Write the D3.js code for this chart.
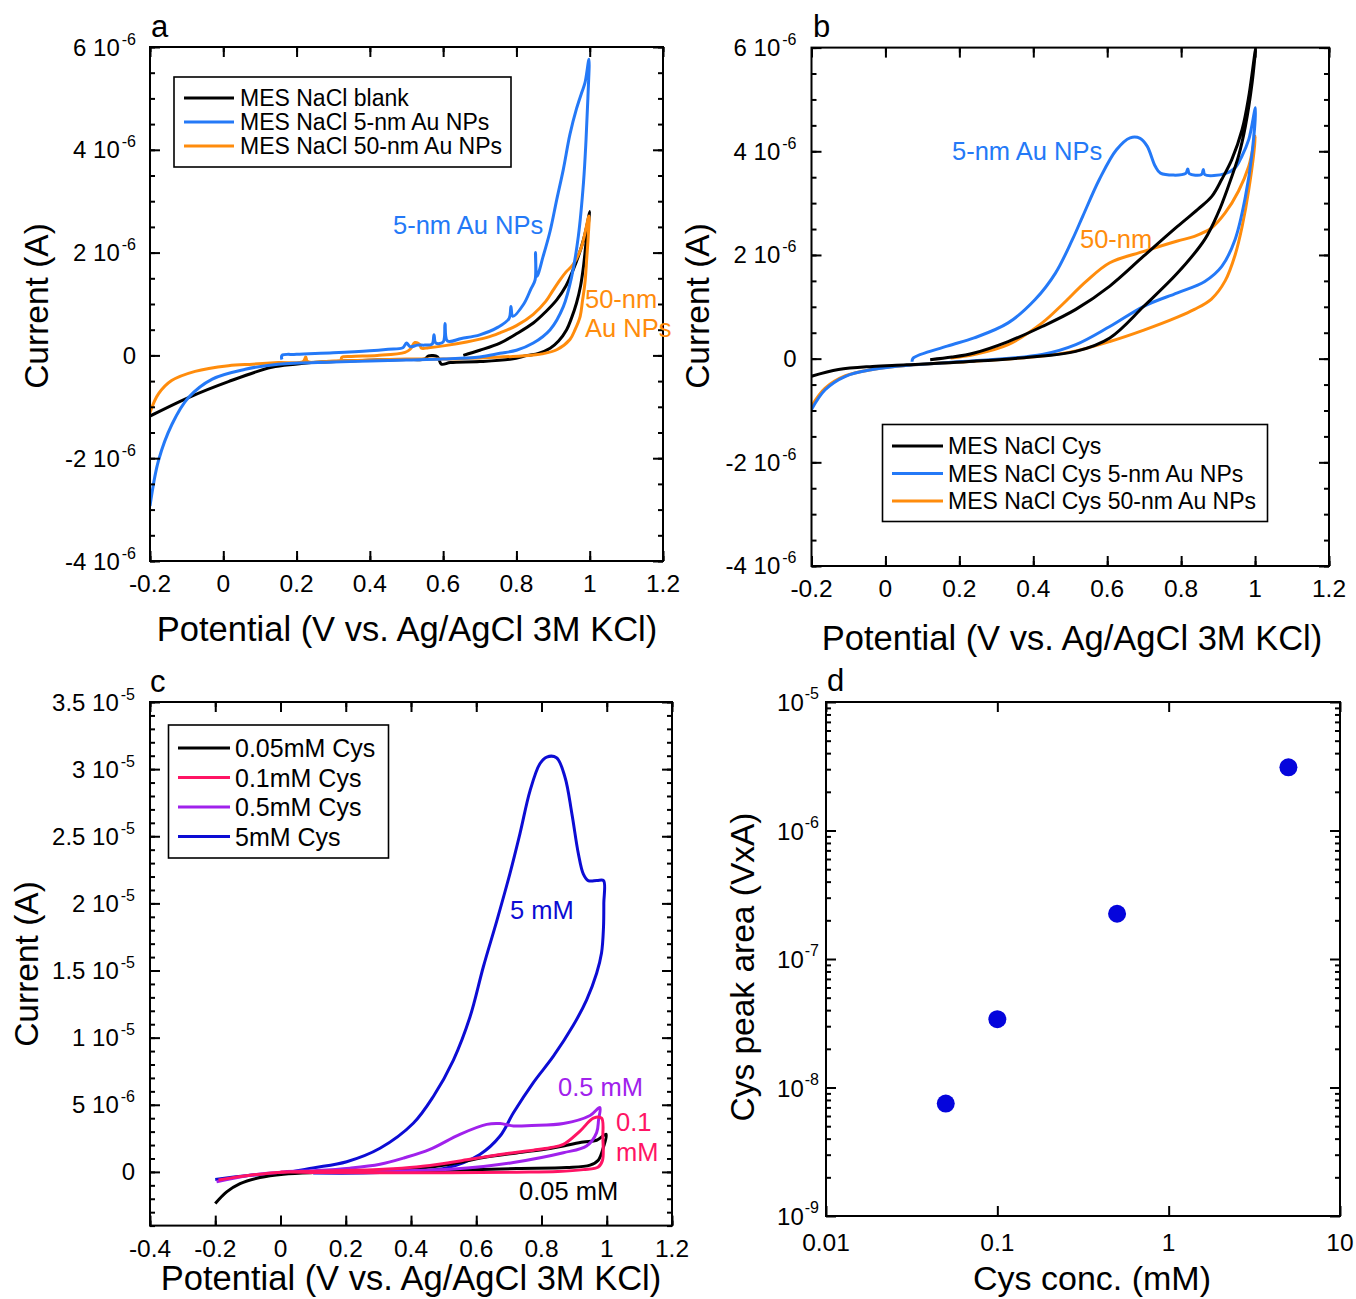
<!DOCTYPE html>
<html>
<head>
<meta charset="utf-8">
<script src="https://cdn.jsdelivr.net/npm/d3@7"></script>
<style>
  body { margin: 0; background: #fff; }
  svg { display: block; }
  text { font-family: "Liberation Sans", Arial, sans-serif; fill: #000; }
</style>
</head>
<body>
<svg id="fig" width="1356" height="1299"></svg>
<script>
// ---- data (potential in V, current in µA) ----
// panel a
const aBlank = [[0.655,0.0],[0.70,0.10],[0.755,0.24],[0.80,0.42],[0.846,0.63],[0.88,0.85],[0.91,1.08],[0.935,1.35],[0.955,1.67],[0.97,1.95],[0.983,2.25],[0.993,2.55],[1.0,2.8],
  [0.997,2.6],[0.99,2.2],[0.983,1.73],[0.975,1.35],[0.964,1.02],[0.95,0.72],[0.937,0.5],[0.915,0.28],[0.892,0.14],[0.86,0.04],[0.83,0.0],[0.787,-0.07],[0.70,-0.12],[0.62,-0.14],[0.595,-0.17],[0.585,-0.03],[0.56,-0.01],[0.55,-0.07],[0.50,-0.08],[0.42,-0.09],[0.33,-0.11],[0.24,-0.14],[0.196,-0.17],[0.132,-0.23],[0.014,-0.51],[-0.095,-0.82],[-0.2,-1.18]];
const aAu5 = [[0.16,-0.08],[0.16,0.0],[0.2,0.02],[0.3,0.05],[0.4,0.09],[0.45,0.12],[0.49,0.15],[0.5,0.24],[0.51,0.17],[0.53,0.2],[0.55,0.2],[0.57,0.22],[0.575,0.4],[0.58,0.24],[0.6,0.26],[0.605,0.62],[0.612,0.28],[0.65,0.33],[0.70,0.40],[0.75,0.55],[0.78,0.72],[0.785,0.95],[0.79,0.76],[0.82,1.0],[0.84,1.3],[0.851,1.47],[0.852,2.0],[0.856,1.54],[0.873,1.93],[0.892,2.42],[0.91,3.03],[0.928,3.62],[0.946,4.3],[0.964,4.8],[0.978,5.11],[0.987,5.3],[0.998,5.76],
  [0.995,5.0],[0.99,4.2],[0.983,3.36],[0.969,2.32],[0.951,1.54],[0.928,0.95],[0.892,0.5],[0.846,0.24],[0.80,0.10],[0.755,0.04],[0.70,-0.03],[0.6,-0.07],[0.5,-0.09],[0.4,-0.11],[0.3,-0.13],[0.15,-0.17],[0.06,-0.27],[-0.03,-0.46],[-0.095,-0.82],[-0.14,-1.34],[-0.177,-2.05],[-0.2,-2.93]];
const aAu50 = [[0.323,-0.10],[0.323,-0.04],[0.35,-0.02],[0.42,0.0],[0.496,0.06],[0.51,0.12],[0.523,0.25],[0.535,0.22],[0.541,0.14],[0.56,0.15],[0.605,0.19],[0.664,0.26],[0.72,0.35],[0.755,0.44],[0.80,0.58],[0.846,0.8],[0.88,1.05],[0.901,1.28],[0.92,1.48],[0.935,1.62],[0.955,1.77],[0.978,2.12],[0.998,2.71],
  [0.996,2.32],[0.992,1.9],[0.987,1.41],[0.98,1.05],[0.974,0.76],[0.96,0.5],[0.946,0.31],[0.91,0.11],[0.87,0.03],[0.846,0.01],[0.79,-0.02],[0.70,-0.05],[0.60,-0.07],[0.50,-0.07],[0.40,-0.09],[0.30,-0.11],[0.23,-0.12],[0.225,-0.03],[0.218,-0.12],[0.15,-0.14],[0.08,-0.17],[0.014,-0.20],[-0.077,-0.31],[-0.141,-0.49],[-0.177,-0.75],[-0.2,-1.11]];

// panel b
const bCys = [[0.121,-0.02],[0.18,0.03],[0.24,0.11],[0.332,0.33],[0.424,0.62],[0.515,0.95],[0.607,1.40],[0.699,1.98],[0.79,2.55],[0.845,2.88],[0.883,3.13],[0.91,3.46],[0.937,3.84],[0.965,4.42],[0.983,5.06],[1.001,5.97],
  [0.992,5.32],[0.974,4.49],[0.955,3.9],[0.928,3.33],[0.90,2.81],[0.864,2.3],[0.79,1.65],[0.699,1.01],[0.607,0.4],[0.515,0.14],[0.424,0.05],[0.24,-0.05],[0.057,-0.12],[-0.035,-0.15],[-0.127,-0.21],[-0.2,-0.34]];
const bCys5 = [[-0.2,-0.98],[-0.163,-0.6],[-0.108,-0.34],[-0.035,-0.21],[0.075,-0.12],[0.24,-0.04],[0.424,0.08],[0.515,0.27],[0.607,0.62],[0.699,1.01],[0.79,1.27],[0.864,1.49],[0.91,1.78],[0.946,2.3],[0.974,3.13],[0.992,3.97],[1.001,4.84],
  [0.983,4.23],[0.964,3.9],[0.946,3.68],[0.919,3.57],[0.864,3.55],[0.86,3.65],[0.855,3.55],[0.822,3.57],[0.818,3.66],[0.812,3.57],[0.744,3.58],[0.73,3.71],[0.708,4.1],[0.689,4.25],[0.662,4.26],[0.625,4.03],[0.579,3.46],[0.534,2.75],[0.506,2.3],[0.46,1.65],[0.405,1.14],[0.332,0.69],[0.24,0.4],[0.167,0.24],[0.075,0.01],[0.072,-0.06]];
const bCys50 = [[-0.2,-0.92],[-0.163,-0.57],[-0.108,-0.33],[-0.035,-0.21],[0.075,-0.12],[0.24,-0.05],[0.424,0.05],[0.515,0.15],[0.607,0.33],[0.699,0.55],[0.79,0.8],[0.836,0.95],[0.882,1.15],[0.919,1.5],[0.946,2.0],[0.965,2.55],[0.983,3.26],[1.001,4.29],
  [0.983,3.71],[0.955,3.23],[0.919,2.81],[0.882,2.52],[0.836,2.36],[0.79,2.27],[0.699,2.07],[0.607,1.85],[0.543,1.49],[0.478,1.04],[0.424,0.69],[0.332,0.27],[0.24,0.08],[0.176,0.01]];

// panel c
const cCys005 = [[-0.2,-2.36],[-0.165,-1.49],[-0.124,-0.87],[-0.063,-0.42],[0.009,-0.17],[0.1,-0.05],[0.213,0.0],[0.315,0.1],[0.417,0.25],[0.52,0.57],[0.622,1.07],[0.724,1.41],[0.826,1.74],[0.877,1.98],[0.928,2.23],[0.969,2.36],[0.998,2.8],
  [0.99,1.86],[0.974,0.87],[0.949,0.5],[0.877,0.32],[0.724,0.25],[0.52,0.12],[0.315,0.02],[0.15,-0.03]];
const cCys01 = [[-0.19,-0.6],[-0.093,-0.25],[0.009,-0.02],[0.111,-0.05],[0.417,-0.07],[0.724,-0.02],[0.85,0.03],[0.928,0.17],[0.974,0.37],[0.987,0.87],[0.988,2.6],[0.984,4.0],
  [0.959,4.0],[0.918,3.04],[0.867,2.05],[0.826,1.8],[0.775,1.62],[0.714,1.43],[0.673,1.3],[0.622,1.1],[0.571,0.9],[0.52,0.7],[0.417,0.37],[0.315,0.2],[0.111,0.05],[0.0,0.0]];
const cCys05 = [[-0.196,-0.74],[-0.093,-0.25],[0.009,0.0],[0.111,0.1],[0.213,0.28],[0.305,0.57],[0.38,1.05],[0.458,1.68],[0.55,2.8],[0.632,3.54],[0.673,3.6],[0.714,3.42],[0.77,3.45],[0.867,3.6],[0.949,4.2],[0.979,4.8],
  [0.975,3.9],[0.969,2.93],[0.938,1.93],[0.867,1.43],[0.714,0.7],[0.622,0.4],[0.52,0.2],[0.315,0.05],[0.111,0.0]];
const cCys5 = [[-0.2,-0.57],[-0.093,-0.25],[0.0,-0.1],[0.1,0.3],[0.203,0.76],[0.305,1.76],[0.407,3.62],[0.468,5.6],[0.53,8.33],[0.581,11.55],[0.622,15.3],[0.663,18.7],[0.703,22.2],[0.734,25.2],[0.765,28.4],[0.795,30.4],[0.816,30.9],[0.846,30.85],[0.872,29.4],[0.893,26.7],[0.913,23.7],[0.928,22.2],[0.943,21.7],[0.97,21.7],[0.99,21.7],
  [0.991,20.0],[0.99,18.2],[0.984,16.3],[0.969,14.8],[0.938,12.8],[0.897,10.9],[0.836,8.6],[0.775,6.65],[0.714,4.4],[0.673,2.67],[0.611,1.3],[0.509,0.3],[0.305,-0.05],[0.1,-0.08]];

// panel d
const dConc = [0.05, 0.1, 0.5, 5];
const dArea = [7.5e-9, 3.4e-8, 2.25e-7, 3.1e-6];

// ticks / labels
const xTicksAB = [-0.2, 0, 0.2, 0.4, 0.6, 0.8, 1, 1.2];
const yTicksAB = [-4, -2, 0, 2, 4, 6];
const xTicksC = [-0.4, -0.2, 0, 0.2, 0.4, 0.6, 0.8, 1, 1.2];
const yTicksC = [0, 5, 10, 15, 20, 25, 30, 35];
const xTicksD = [0.01, 0.1, 1, 10];
const xLabelsD = ["0.01", "0.1", "1", "10"];
const yTicksD = [1e-9, 1e-8, 1e-7, 1e-6, 1e-5];
const yExpD = ["-9", "-8", "-7", "-6", "-5"];

const legendA = ["MES NaCl blank", "MES NaCl 5-nm Au NPs", "MES NaCl 50-nm Au NPs"];
const legendB = ["MES NaCl Cys", "MES NaCl Cys 5-nm Au NPs", "MES NaCl Cys 50-nm Au NPs"];
const legendC = ["0.05mM Cys", "0.1mM Cys", "0.5mM Cys", "5mM Cys"];

const BLUE = "#2479f7", ORANGE = "#ff8c0c", BLACK = "#000";
const PINK = "#ff1464", PURPLE = "#a021ec", DBLUE = "#0c0cd4", DOT = "#0505dc";

const svg = d3.select("#fig");
const xTitle = "Potential (V vs. Ag/AgCl 3M KCl)";

function addTicks(g, x, y, w, h, xt, yt, len) {
  const sides = [
    [d3.axisBottom(x), xt, `translate(0,${h})`],
    [d3.axisTop(x), xt, null],
    [d3.axisLeft(y), yt, null],
    [d3.axisRight(y), yt, `translate(${w},0)`]
  ];
  sides.forEach(([ax, vals, tr]) => {
    if (!vals.length) return;
    const a = g.append("g").call(ax.tickValues(vals).tickSize(-len).tickFormat(""));
    if (tr) a.attr("transform", tr);
    a.select(".domain").remove();
    a.selectAll("line").attr("stroke", "#000").attr("stroke-width", 2);
    a.selectAll("text").remove();
  });
}

// "6 10-6" style label from a value in µA
function sciLabel(g, v, xx, yy) {
  const t = g.append("text").attr("x", xx).attr("y", yy).attr("text-anchor", "end").style("font-size", "24px");
  if (v === 0) { t.text("0"); return; }
  const A = v * 1e-6;
  const e = Math.floor(Math.log10(Math.abs(A)) + 1e-9);
  const m = +(A / Math.pow(10, e)).toFixed(1);
  t.append("tspan").text(m + " 10");
  t.append("tspan").attr("dy", -11).attr("dx", 2).style("font-size", "16px").text(String(e));
}

function legend(g, x0, y0, w, h, lx, tx, rows, labels, colors, fs) {
  g.append("rect").attr("x", x0).attr("y", y0).attr("width", w).attr("height", h)
    .attr("fill", "#fff").attr("stroke", "#000").attr("stroke-width", 1.6);
  labels.forEach((lab, i) => {
    g.append("line").attr("x1", lx[0]).attr("x2", lx[1]).attr("y1", rows[i]).attr("y2", rows[i])
      .attr("stroke", colors[i]).attr("stroke-width", 3);
    g.append("text").attr("x", tx).attr("y", rows[i] + fs * 0.36).style("font-size", fs + "px").text(lab);
  });
}

function cvPanel(p) {
  const g = svg.append("g").attr("transform", `translate(${p.left},${p.top})`);
  const x = d3.scaleLinear().domain(p.xd).range([0, p.w]);
  const y = d3.scaleLinear().domain(p.yd).range([p.h, 0]);

  g.append("clipPath").attr("id", "clip" + p.id)
    .append("rect").attr("width", p.w).attr("height", p.h);

  const line = d3.line().x(d => x(d[0])).y(d => y(d[1])).curve(d3.curveCatmullRom.alpha(0.5));
  const curves = g.append("g").attr("clip-path", `url(#clip${p.id})`);
  p.series.forEach(s => {
    curves.append("path").attr("d", line(s.data)).attr("fill", "none")
      .attr("stroke", s.color).attr("stroke-width", 3).attr("stroke-linejoin", "round");
  });

  addTicks(g, x, y, p.w, p.h, p.xt, p.yMinor, 5);
  addTicks(g, x, y, p.w, p.h, p.xt, p.yt, 10);
  g.append("rect").attr("width", p.w).attr("height", p.h).attr("fill", "none")
    .attr("stroke", "#000").attr("stroke-width", 2);

  p.yt.forEach(v => sciLabel(g, v, -p.ylabGap, y(v) + 8.5));
  p.xt.forEach(v => {
    g.append("text").attr("x", x(v)).attr("y", p.h + 31).attr("text-anchor", "middle")
      .style("font-size", "24.5px").text(String(v));
  });
  return { g, x, y };
}

// ---- panel a ----
cvPanel({
  id: "a", left: 150, top: 47, w: 513, h: 514, xd: [-0.2, 1.2], yd: [-4, 6],
  xt: xTicksAB, yt: yTicksAB, yMinor: d3.range(-4, 6.01, 0.5), ylabGap: 14,
  series: [{ data: aBlank, color: BLACK }, { data: aAu50, color: ORANGE }, { data: aAu5, color: BLUE }]
});
// ---- panel b ----
cvPanel({
  id: "b", left: 811.5, top: 47.6, w: 517.5, h: 518.4, xd: [-0.2, 1.2], yd: [-4, 6],
  xt: xTicksAB, yt: yTicksAB, yMinor: d3.range(-4, 6.01, 0.5), ylabGap: 15,
  series: [{ data: bCys50, color: ORANGE }, { data: bCys5, color: BLUE }, { data: bCys, color: BLACK }]
});
// ---- panel c ----
cvPanel({
  id: "c", left: 150, top: 702, w: 522, h: 523.6, xd: [-0.4, 1.2], yd: [-4, 35],
  xt: xTicksC, yt: yTicksC, yMinor: d3.range(-4, 35.01, 1), ylabGap: 15,
  series: [{ data: cCys5, color: DBLUE }, { data: cCys005, color: BLACK }, { data: cCys05, color: PURPLE }, { data: cCys01, color: PINK }]
});

// legends (page coordinates)
legend(svg, 174, 77, 337, 90, [184, 234], 240, [98, 122, 146], legendA, [BLACK, BLUE, ORANGE], 23);
legend(svg, 882.5, 424.5, 385, 97, [892, 943], 948, [446, 473.5, 501], legendB, [BLACK, BLUE, ORANGE], 23);
legend(svg, 168.5, 725, 220, 133, [178, 230], 235, [748, 777.5, 807, 836.5], legendC, [BLACK, PINK, PURPLE, DBLUE], 25);

// curve annotations
function note(x, y, txt, color) {
  svg.append("text").attr("x", x).attr("y", y).style("font-size", "25.5px").style("fill", color).text(txt);
}
note(393, 234, "5-nm Au NPs", BLUE);
note(585, 308, "50-nm", ORANGE);
note(585, 337, "Au NPs", ORANGE);
note(952, 160, "5-nm Au NPs", BLUE);
note(1080, 248, "50-nm", ORANGE);
note(510, 919, "5 mM", DBLUE);
note(558, 1096, "0.5 mM", PURPLE);
note(616, 1131, "0.1", PINK);
note(616, 1161, "mM", PINK);
note(519, 1200, "0.05 mM", BLACK);

// ---- panel d ----
(function () {
  const left = 826, top = 702, w = 514, h = 514;
  const g = svg.append("g").attr("transform", `translate(${left},${top})`);
  const x = d3.scaleLog().domain([0.01, 10]).range([0, w]);
  const y = d3.scaleLog().domain([1e-9, 1e-5]).range([h, 0]);
  const minor = [];
  yTicksD.slice(0, -1).forEach(d => { for (let k = 2; k <= 9; k++) minor.push(d * k); });
  addTicks(g, x, y, w, h, [], minor, 5);
  addTicks(g, x, y, w, h, xTicksD, yTicksD, 10);
  g.append("rect").attr("width", w).attr("height", h).attr("fill", "none")
    .attr("stroke", "#000").attr("stroke-width", 2);
  g.selectAll("circle.pt").data(dConc.map((c, i) => [c, dArea[i]])).join("circle")
    .attr("class", "pt").attr("cx", d => x(d[0])).attr("cy", d => y(d[1])).attr("r", 9).attr("fill", DOT);
  yTicksD.forEach((v, i) => {
    const t = g.append("text").attr("x", -7).attr("y", y(v) + 9).attr("text-anchor", "end").style("font-size", "24px");
    t.append("tspan").text("10");
    t.append("tspan").attr("dy", -12).attr("dx", 1).style("font-size", "16px").text(yExpD[i]);
  });
  xTicksD.forEach((v, i) => {
    g.append("text").attr("x", x(v)).attr("y", h + 35).attr("text-anchor", "middle")
      .style("font-size", "24.5px").text(xLabelsD[i]);
  });
  g.append("text").attr("x", 266).attr("y", h + 74).attr("text-anchor", "middle")
    .style("font-size", "34px").text("Cys conc. (mM)");
  g.append("text").attr("transform", `translate(-72,${265}) rotate(-90)`).attr("text-anchor", "middle")
    .style("font-size", "33.5px").text("Cys peak area (VxA)");
})();

// axis titles & panel letters
function title(x, y, txt, rot) {
  const t = svg.append("text").attr("text-anchor", "middle").style("font-size", rot ? "33.5px" : "34.5px").text(txt);
  if (rot) t.attr("transform", `translate(${x},${y}) rotate(-90)`);
  else t.attr("x", x).attr("y", y);
}
title(407, 641, xTitle);
title(48, 306, "Current (A)", true);
title(1072, 650, xTitle);
title(709, 306, "Current (A)", true);
title(411, 1290, xTitle);
title(38, 964, "Current (A)", true);

function letter(x, y, s) {
  svg.append("text").attr("x", x).attr("y", y).style("font-size", "31px").text(s);
}
letter(151, 37, "a");
letter(813, 37, "b");
letter(150, 692, "c");
letter(827, 691, "d");
</script>
</body>
</html>
